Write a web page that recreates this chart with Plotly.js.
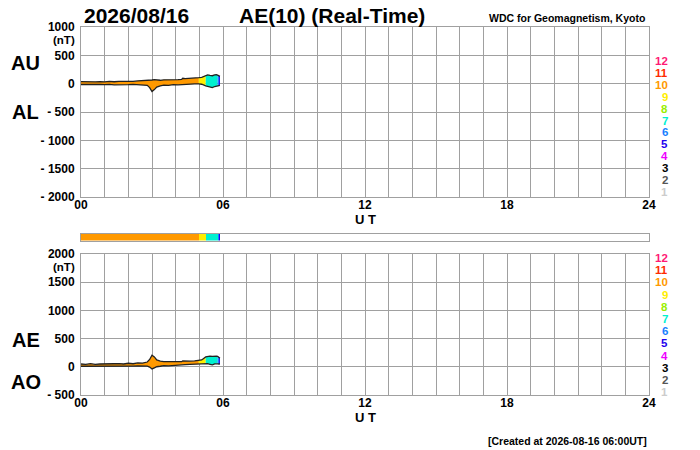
<!DOCTYPE html>
<html>
<head>
<meta charset="utf-8">
<script src="https://cdn.plot.ly/plotly-3.0.1.min.js"></script>
<style>html,body{margin:0;padding:0;background:#fff;}#chart{width:700px;height:450px;}</style>
</head>
<body>
<div id="chart"></div>
<script>
// ---- data (UT hours, nT) ----
const hours    = [0,0.2,0.4,0.6,0.8,1.0,1.2,1.4,1.6,1.8,2.0,2.2,2.4,2.6,2.8,2.9,3.0,3.1,3.2,3.35,3.5,3.7,3.9,4.1,4.25,4.3,4.4,4.6,4.8,4.98,5.1,5.27,5.35,5.45,5.55,5.65,5.72,5.77,5.83,5.87];
const AU       = [35,30,38,32,36,30,40,34,42,38,45,40,48,50,55,60,65,70,62,60,68,65,72,70,75,95,90,92,100,105,112,150,155,145,140,155,160,150,140,130];
const AL       = [-15,-12,-18,-10,-14,-18,-12,-20,-15,-12,-18,-14,-20,-16,-30,-70,-140,-105,-60,-40,-25,-30,-18,-20,-15,-10,-12,-8,-5,-5,-10,-40,-45,-55,-70,-50,-45,-45,-40,-30];
const AE       = [50,42,56,42,50,48,52,54,57,50,63,54,68,66,85,130,205,175,122,100,93,95,90,90,90,105,102,100,105,110,122,175,185,190,185,195,190,185,170,150];
const AO       = [10,9,10,11,11,6,14,7,13,13,13,13,14,17,12,-5,-38,-18,1,10,22,18,27,25,30,42,39,42,47,50,51,55,55,45,35,52,57,52,50,50];
const stations = [10,10,10,10,10,10,10,10,10,10,10,10,10,10,10,10,10,10,10,10,10,10,10,10,10,10,10,10,10,9,9,7,7,7,7,7,7,6,5,5];

const countLabels = ['12','11','10','9','8','7','6','5','4','3','2','1'];
const countColors = ['#ff1a75','#ff2a00','#ff9900','#ffee00','#99ee00','#00f0d0','#1a7fff','#2200ee','#ee00ff','#000000','#555555','#cccccc'];
const topTicks = [-2000,-1500,-1000,-500,0,500,1000];
const topTickText = ['- 2000','- 1500','- 1000','- 500','0','500','1000'];
const botTicks = [-500,0,500,1000,1500,2000];
const botTickText = ['- 500','0','500','1000','1500','2000'];
const hourTicks = Array.from({length:25},(_,i)=>i);
const hourText = hourTicks.map(h => h%6===0 ? String(h).padStart(2,'0') : '');

function colorOf(n){ return countColors[countLabels.indexOf(String(n))]; }

// segments of constant station count
function segments(){
  const segs=[]; let s=0;
  for(let i=1;i<hours.length;i++){
    if(stations[i]!==stations[s] || i===hours.length-1){
      segs.push([s,i]); s=i;
    }
  }
  return segs;
}
const segs = segments();

const FONT = 'Liberation Sans, Arial, Helvetica, sans-serif';
const traces=[];
function addFill(upper, lower, xa, ya){
  segs.forEach(([a,b])=>{
    const xs=hours.slice(a,b+1);
    traces.push({x:xs,y:lower.slice(a,b+1),xaxis:xa,yaxis:ya,mode:'lines',line:{width:0},hoverinfo:'skip',showlegend:false});
    traces.push({x:xs,y:upper.slice(a,b+1),xaxis:xa,yaxis:ya,mode:'lines',line:{width:0},fill:'tonexty',fillcolor:colorOf(stations[a]),hoverinfo:'skip',showlegend:false});
  });
  [upper,lower].forEach(arr=>traces.push({x:hours,y:arr,xaxis:xa,yaxis:ya,mode:'lines',line:{color:'#222',width:1.3},hoverinfo:'skip',showlegend:false}));
}
addFill(AU, AL, 'x', 'y');
addFill(AE, AO, 'x2', 'y2');

// station strip
segs.forEach(([a,b])=>{
  traces.push({type:'bar',orientation:'h',y:[0.5],x:[hours[b]-hours[a]],base:[hours[a]],width:[1],
    marker:{color:colorOf(stations[a]),line:{width:0}},xaxis:'x3',yaxis:'y3',hoverinfo:'skip',showlegend:false});
});

const L=81, R=649, T=27, B=395;
const px=x=>(x-L)/(R-L), py=y=>(B-y)/(B-T);
function ann(text,x,y,size,opt={}){
  return Object.assign({text:text,xref:'paper',yref:'paper',x:px(x),y:py(y),showarrow:false,
    xanchor:'center',yanchor:'middle',font:{family:FONT,size:size,color:'#000',weight:'bold'}},opt);
}
const annotations=[
  ann('2026/08/16',82,15,21,{xanchor:'left'}),
  ann('AE(10) (Real-Time)',237,15,21,{xanchor:'left'}),
  ann('WDC for Geomagnetism, Kyoto',647,18,10.5,{xanchor:'right'}),
  ann('AU',25,63,20),
  ann('AL',25,112,20),
  ann('AE',26,340,20),
  ann('AO',26,382,20),
  ann('(nT)',64,40,11.5),
  ann('(nT)',64,267,11.5),
  ann('U T',365,219,13),
  ann('U T',365,417,13),
  ann('[Created at 2026-08-16 06:00UT]',649,441,10.5,{xanchor:'right'})
];
countLabels.forEach((lab,i)=>{
  annotations.push(ann(lab,670,61+i*11.9,11.5,{xanchor:'right',font:{family:FONT,size:11.5,color:countColors[i],weight:'bold'}}));
  annotations.push(ann(lab,670,258+i*12.2,11.5,{xanchor:'right',font:{family:FONT,size:11.5,color:countColors[i],weight:'bold'}}));
});

const tickFont={family:FONT,size:12,color:'#000',weight:'bold'};
const xBase={range:[0,24],tickmode:'array',tickvals:hourTicks,ticktext:hourText,ticks:'',showgrid:true,gridcolor:'#a0a0a0',gridwidth:1,
  showline:true,mirror:true,linecolor:'#a0a0a0',linewidth:1,zeroline:false,tickfont:tickFont,ticklabelstandoff:-3,fixedrange:true};
const yBase={ticks:'',showgrid:true,gridcolor:'#a0a0a0',gridwidth:1,showline:true,mirror:true,linecolor:'#a0a0a0',linewidth:1,
  zeroline:false,tickfont:tickFont,tickmode:'array',ticklabelstandoff:3,fixedrange:true};

const layout={
  width:700,height:450,margin:{l:L,r:700-R,t:T,b:450-B},
  paper_bgcolor:'#fff',plot_bgcolor:'#fff',showlegend:false,
  xaxis:Object.assign({},xBase,{anchor:'y',domain:[0,1]}),
  yaxis:Object.assign({},yBase,{anchor:'x',domain:[py(197),1],range:[-2000,1000],tickvals:topTicks,ticktext:topTickText}),
  xaxis2:Object.assign({},xBase,{anchor:'y2',domain:[0,1]}),
  yaxis2:Object.assign({},yBase,{anchor:'x2',domain:[0,py(254)],range:[-500,2000],tickvals:botTicks,ticktext:botTickText}),
  xaxis3:{anchor:'y3',domain:[0,1],range:[0,24],showgrid:false,showticklabels:false,ticks:'',showline:true,mirror:true,linecolor:'#a0a0a0',linewidth:1,zeroline:false,fixedrange:true},
  yaxis3:{anchor:'x3',domain:[py(240.5),py(234)],range:[0,1],showgrid:false,showticklabels:false,ticks:'',showline:true,mirror:true,linecolor:'#a0a0a0',linewidth:1,zeroline:false,fixedrange:true},
  bargap:0,barmode:'overlay',
  annotations:annotations
};
Plotly.newPlot('chart',traces,layout,{displayModeBar:false,staticPlot:true});
</script>
</body>
</html>
